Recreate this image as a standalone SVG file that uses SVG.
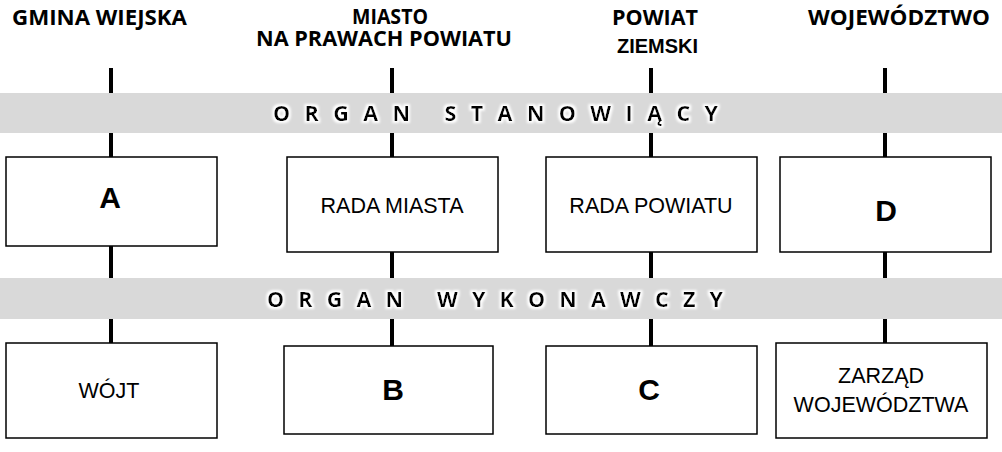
<svg xmlns="http://www.w3.org/2000/svg" width="1002" height="452" viewBox="0 0 1002 452">
<style>
.hdr{font-family:"Open Sans","Liberation Sans",sans-serif;font-weight:bold;font-size:21.5px;fill:#000}
.band{fill:#d9d9d9}
.bt{font-family:"Open Sans","Liberation Sans",sans-serif;font-weight:bold;font-size:21.5px;fill:#000}
.box{fill:#fff;stroke:#000;stroke-width:1.5}
.lbl{font-family:"Liberation Sans",Arial,sans-serif;font-size:21.5px;fill:#000;text-anchor:middle}
.big{font-family:"Liberation Sans",Arial,sans-serif;font-weight:bold;font-size:30px;fill:#000;text-anchor:middle}
.ln{stroke:#000;stroke-width:4;fill:none}
</style>
<defs>
<filter id="glow" x="-5%" y="-30%" width="110%" height="160%">
<feMorphology in="SourceAlpha" operator="dilate" radius="1.5" result="d"/>
<feGaussianBlur in="d" stdDeviation="1" result="b"/>
<feFlood flood-color="#fff"/>
<feComposite in2="b" operator="in" result="g"/>
<feMerge><feMergeNode in="g"/><feMergeNode in="SourceGraphic"/></feMerge>
</filter>
</defs>
<rect width="1002" height="452" fill="#fff"/>
<g id="headers">
<text class="hdr" x="12" y="25" textLength="175" lengthAdjust="spacingAndGlyphs">GMINA WIEJSKA</text>
<text class="hdr" x="352" y="24" textLength="76" lengthAdjust="spacingAndGlyphs">MIASTO</text>
<text class="hdr" x="256" y="46" textLength="256" lengthAdjust="spacingAndGlyphs">NA PRAWACH POWIATU</text>
<text class="hdr" x="612" y="25" textLength="86" lengthAdjust="spacingAndGlyphs">POWIAT</text>
<text class="hdr" x="617" y="53" textLength="81" lengthAdjust="spacingAndGlyphs" style="font-family:'Liberation Sans',Arial,sans-serif;font-size:19.5px">ZIEMSKI</text>
<text class="hdr" x="808" y="25" textLength="182" lengthAdjust="spacingAndGlyphs">WOJEWÓDZTWO</text>
</g>
<g id="bands">
<rect class="band" x="0" y="93" width="1002" height="40"/>
<rect class="band" x="0" y="278" width="1002" height="41"/>
</g>
<g id="connectors">
<path class="ln" d="M111 68V93M111 133V157M111 246V278M111 319V343"/>
<path class="ln" d="M392 68V93M392 133V157M392 252V278M392 319V346"/>
<path class="ln" d="M651 68V93M651 133V157M651 252V278M651 319V346"/>
<path class="ln" d="M885 68V93M885 133V157M885 252V278M885 319V343"/>
</g>
<g id="band-labels" filter="url(#glow)">
<text class="bt" x="273" y="121" textLength="445" lengthAdjust="spacing">ORGAN  STANOWIĄCY</text>
<text class="bt" x="267" y="307" textLength="456" lengthAdjust="spacing">ORGAN  WYKONAWCZY</text>
</g>
<g id="node-A"><rect class="box" x="6" y="157" width="211" height="89"/><text class="big" x="110" y="208">A</text></g>
<g id="node-rada-miasta"><rect class="box" x="287" y="157" width="211" height="95"/><text class="lbl" x="392" y="213">RADA MIASTA</text></g>
<g id="node-rada-powiatu"><rect class="box" x="546" y="157" width="211" height="95"/><text class="lbl" x="651" y="213">RADA POWIATU</text></g>
<g id="node-D"><rect class="box" x="780" y="157" width="211" height="95"/><text class="big" x="886" y="221">D</text></g>
<g id="node-wojt"><rect class="box" x="6" y="343" width="211" height="95"/><text class="lbl" x="109" y="398">WÓJT</text></g>
<g id="node-B"><rect class="box" x="284" y="346" width="209" height="88"/><text class="big" x="393" y="400">B</text></g>
<g id="node-C"><rect class="box" x="546" y="346" width="211" height="88"/><text class="big" x="649" y="400">C</text></g>
<g id="node-zarzad"><rect class="box" x="776" y="343" width="211" height="95"/><text class="lbl" x="881" y="383">ZARZĄD</text><text class="lbl" x="881" y="412">WOJEWÓDZTWA</text></g>
</svg>
